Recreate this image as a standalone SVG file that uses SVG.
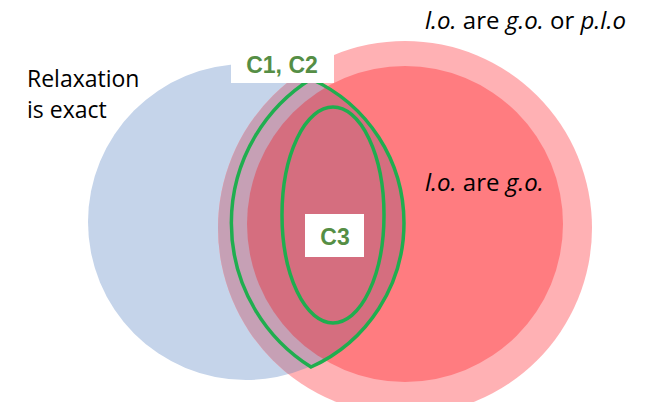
<svg xmlns="http://www.w3.org/2000/svg" width="652" height="402" viewBox="0 0 652 402">
<style>
.lbl{font-family:"Open Sans","Noto Sans",sans-serif;font-size:24px;fill:#000}
.big{font-size:23px}
.it{font-style:italic}
.gl{font-family:"Liberation Sans",Arial,sans-serif;font-weight:bold;font-size:23px;fill:#558e45;text-anchor:middle}
.box{fill:#fff}
.green{fill:none;stroke:#1fae4f;stroke-width:3.5}
</style>
<defs>
<clipPath id="cBlue"><circle cx="246" cy="222" r="158"/></clipPath>
</defs>
<rect width="652" height="402" fill="#fff"/>
<g id="sets">
<circle id="blue" cx="246" cy="222" r="158" fill="#c5d4ea"/>
<circle id="outer" cx="405" cy="228" r="187" fill="#ffb1b4"/>
<circle id="inner" cx="405" cy="224" r="158" fill="#ff7c80"/>
<g clip-path="url(#cBlue)">
<circle cx="405" cy="228" r="187" fill="#c6a0b5"/>
<circle cx="405" cy="224" r="158" fill="#d56e7f"/>
</g>
</g>
<g id="connectors">
<path id="lensC1C2" class="green" d="M311,79 A170,170 0 0 0 311,367 A158,158 0 0 0 311,79 Z"/>
<ellipse id="ellC3" class="green" cx="333" cy="215" rx="51" ry="108"/>
</g>
<g id="labelC1C2">
<rect class="box" x="231" y="48" width="103" height="35"/>
<text class="gl" x="282" y="73">C1, C2</text>
</g>
<g id="labelC3">
<rect class="box" x="305" y="214" width="59" height="43"/>
<text class="gl" x="335" y="245">C3</text>
</g>
<g id="textRelax">
<text class="lbl big" x="27" y="87">Relaxation</text>
<text class="lbl big" x="27" y="118">is exact</text>
</g>
<g id="textTop">
<text class="lbl" x="425" y="29"><tspan class="it">l.o.</tspan> are <tspan class="it">g.o.</tspan> or <tspan class="it">p.l.o</tspan></text>
</g>
<g id="textMid">
<text class="lbl" x="425" y="191"><tspan class="it">l.o.</tspan> are <tspan class="it">g.o.</tspan></text>
</g>
</svg>
